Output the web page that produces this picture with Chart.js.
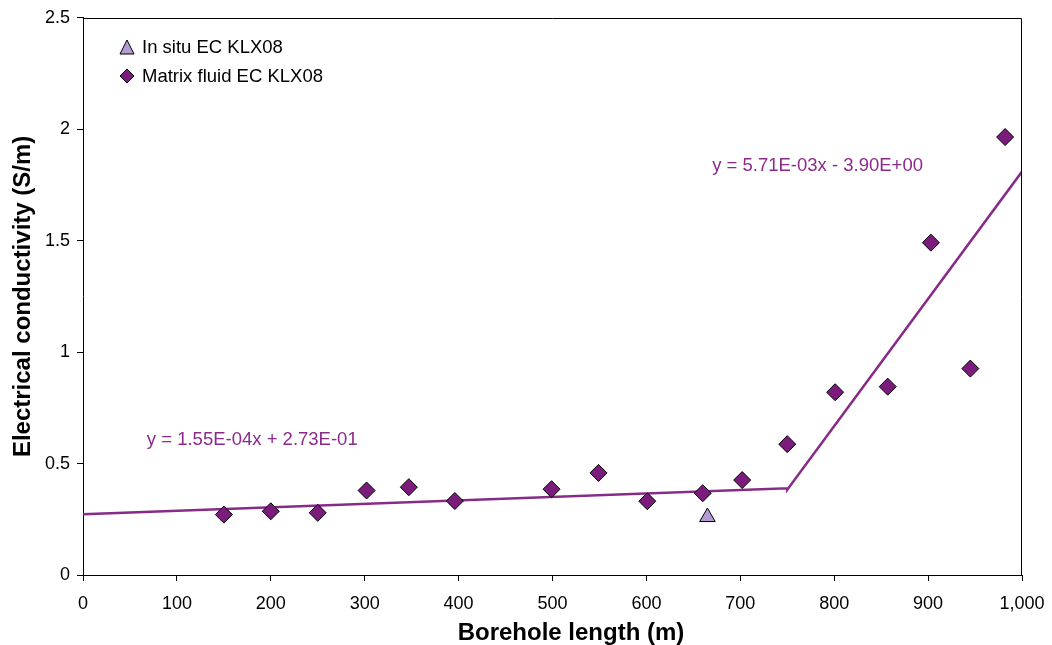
<!DOCTYPE html>
<html>
<head>
<meta charset="utf-8">
<script src="https://cdn.jsdelivr.net/npm/chart.js@4"></script>
<style>
  body { margin: 0; background: #fff; }
  #wrap { width: 1052px; height: 645px; }
</style>
</head>
<body>
<div id="wrap"><canvas id="grafico" width="1052" height="645"></canvas></div>
<script>
// Matrix fluid EC KLX08
const matrixX = [150, 200, 250, 302, 347, 396, 499, 549, 601, 660, 702, 750, 801, 857, 903, 945, 982];
const matrixY = [0.271, 0.286, 0.279, 0.379, 0.394, 0.332, 0.385, 0.458, 0.331, 0.367, 0.426, 0.587, 0.820, 0.845, 1.491, 0.926, 1.965];

// In situ EC KLX08
const insituX = [665];
const insituY = [0.26];

// trend lines (end points)
const trendX = [0, 750, 750, 1000];
const trendY = [0.273, 0.389, 0.383, 1.81];

const equacoes = ["y = 1.55E-04x + 2.73E-01", "y = 5.71E-03x - 3.90E+00"];
const xTicks = [0, 100, 200, 300, 400, 500, 600, 700, 800, 900, 1000];
const yTicks = [0, 0.5, 1, 1.5, 2, 2.5];

const roxo = "#7b1c7c";
const linhaCor = "#872a88";
const lilas = "#b39bd3";
const fonte = "'Liberation Sans', Arial, sans-serif";

const toXY = (xs, ys) => xs.map((x, i) => ({ x, y: ys[i] }));

const extras = {
    id: "extras",
    afterDraw(chart) {
        const { ctx, chartArea: a, scales } = chart;
        ctx.save();
        // caixa
        ctx.strokeStyle = "#000";
        ctx.lineWidth = 1;
        ctx.beginPath();
        ctx.moveTo(Math.round(a.left) + 0.5, Math.round(a.top) + 0.5);
        ctx.lineTo(Math.round(a.right) - 0.5, Math.round(a.top) + 0.5);
        ctx.lineTo(Math.round(a.right) - 0.5, Math.round(a.bottom));
        ctx.stroke();

        // titulos dos eixos
        ctx.fillStyle = "#000";
        ctx.font = "bold 24px " + fonte;
        ctx.textAlign = "center";
        ctx.textBaseline = "middle";
        ctx.fillText("Borehole length (m)", 571, 633);
        ctx.save();
        ctx.translate(23, (a.top + a.bottom) / 2);
        ctx.rotate(-Math.PI / 2);
        ctx.fillText("Electrical conductivity (S/m)", 0, 0);
        ctx.restore();

        // equacoes
        ctx.fillStyle = "#8b2a8b";
        ctx.font = "18.5px " + fonte;
        ctx.textAlign = "left";
        ctx.fillText(equacoes[0], scales.x.getPixelForValue(68), scales.y.getPixelForValue(0.605));
        ctx.fillText(equacoes[1], scales.x.getPixelForValue(670), scales.y.getPixelForValue(1.836));

        // legenda
        ctx.fillStyle = "#000";
        const lx = 127;
        ctx.fillText("In situ EC KLX08", lx + 15, 48);
        ctx.fillText("Matrix fluid EC KLX08", lx + 15, 77);

        ctx.lineWidth = 1;
        ctx.strokeStyle = "#000";
        ctx.beginPath();
        ctx.moveTo(lx, 40);
        ctx.lineTo(lx + 7, 54);
        ctx.lineTo(lx - 7, 54);
        ctx.closePath();
        ctx.fillStyle = lilas;
        ctx.fill();
        ctx.stroke();

        ctx.beginPath();
        ctx.moveTo(lx, 69);
        ctx.lineTo(lx + 7, 76);
        ctx.lineTo(lx, 83);
        ctx.lineTo(lx - 7, 76);
        ctx.closePath();
        ctx.fillStyle = roxo;
        ctx.fill();
        ctx.stroke();
        ctx.restore();
    }
};

new Chart(document.getElementById("grafico"), {
    type: "scatter",
    data: {
        datasets: [
            {
                label: "Trend",
                data: toXY(trendX, trendY),
                showLine: true,
                borderColor: linhaCor,
                borderWidth: 2.5,
                pointRadius: 0,
                order: 3
            },
            {
                label: "In situ EC KLX08",
                data: toXY(insituX, insituY),
                pointStyle: "triangle",
                pointRadius: 9,
                backgroundColor: lilas,
                borderColor: "#000",
                borderWidth: 1,
                order: 2
            },
            {
                label: "Matrix fluid EC KLX08",
                data: toXY(matrixX, matrixY),
                pointStyle: "rectRot",
                pointRadius: 8.5,
                backgroundColor: roxo,
                borderColor: "#000",
                borderWidth: 1,
                order: 1
            }
        ]
    },
    options: {
        responsive: false,
        animation: false,
        devicePixelRatio: 1,
        layout: { padding: { left: 0, top: 17, right: 30, bottom: 0 } },
        plugins: {
            legend: { display: false },
            tooltip: { enabled: false }
        },
        scales: {
            x: {
                type: "linear",
                min: 0,
                max: 1000,
                afterFit: s => { s.height = 70; s.paddingLeft = 0; s.paddingRight = 0; },
                afterBuildTicks: s => { s.ticks = xTicks.map(v => ({ value: v })); },
                grid: { drawOnChartArea: false, tickLength: 6, color: "#000" },
                border: { color: "#000", width: 1 },
                ticks: { color: "#000", font: { family: fonte, size: 18 }, padding: 12, maxRotation: 0 }
            },
            y: {
                min: 0,
                max: 2.5,
                afterFit: s => { s.width = 83; },
                afterBuildTicks: s => { s.ticks = yTicks.map(v => ({ value: v })); },
                grid: { drawOnChartArea: false, tickLength: 6, color: "#000" },
                border: { color: "#000", width: 1 },
                ticks: {
                    color: "#000",
                    font: { family: fonte, size: 18 },
                    padding: 7,
                    callback: v => String(v)
                }
            }
        }
    },
    plugins: [extras]
});
</script>
</body>
</html>
